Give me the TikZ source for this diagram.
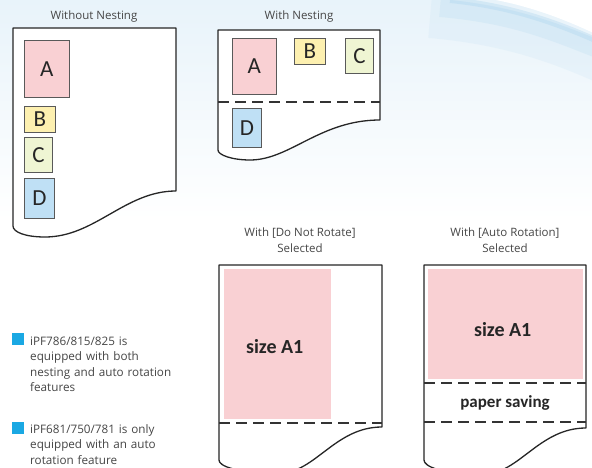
\documentclass[tikz,border=0pt]{standalone}
\usepackage{fontspec}
\setmainfont{Open Sans}
\newfontfamily\boxfont{Carlito}
\usetikzlibrary{positioning}

\definecolor{pinkA}{RGB}{249,208,211}
\definecolor{yellowB}{RGB}{253,240,176}
\definecolor{greenC}{RGB}{239,245,211}
\definecolor{blueD}{RGB}{191,224,245}
\definecolor{inkgray}{RGB}{70,70,70}
\definecolor{bulletblue}{RGB}{26,168,227}
\definecolor{skyband}{RGB}{170,212,238}
\definecolor{skytint}{RGB}{232,243,250}

\tikzset{
  paper/.style={draw=black!85, line width=1.3pt, fill=white, line join=round},
  cutline/.style={draw=black!80, line width=1.3pt, dash pattern=on 11pt off 6pt},
  job/.style={draw=black!65, line width=0.8pt, anchor=north west, inner sep=0pt,
    font=\boxfont\fontsize{23}{23}\selectfont, text=black!85},
  sheet/.style={fill=pinkA, anchor=north west, inner sep=0pt},
  heading/.style={font=\fontsize{11.5}{15.5}\selectfont, text=inkgray, align=center},
  sizelabel/.style={font=\boxfont\bfseries\fontsize{20}{20}\selectfont, text=black!85},
  note/.style={font=\fontsize{11.7}{15.5}\selectfont, text=inkgray, text width=170pt,
    align=left, inner sep=0pt, anchor=base west},
  bullet/.style={fill=bulletblue, minimum size=11.5pt, inner sep=0pt, anchor=north west}
}

\begin{document}
\begin{tikzpicture}[x=1pt, y=-1pt]
\clip (0,0) rectangle (592,468);
% background
\fill[white] (0,0) rectangle (592,468);
\shade[top color=skytint, bottom color=white] (0,0) rectangle (592,220);
\draw[skyband, line width=40pt, opacity=.12] (430,18) .. controls (500,24) and (550,40) .. (600,62);
\draw[skyband, line width=18pt, opacity=.2] (440,8) .. controls (510,14) and (550,30) .. (600,50);
\draw[skyband, line width=6pt, opacity=.35] (450,0) .. controls (510,6) and (555,22) .. (600,42);
\fill[white] (470,-4) .. controls (520,2) and (560,17) .. (600,36) -- (600,-4) -- cycle;

% without nesting
\node[heading] (tplain) at (94,17) {Without Nesting};
\draw[paper] (13,226) -- (13,28) -- (176,28) -- (176,191)
  .. controls (125,191) and (95,237) .. (45,237)
  .. controls (25,237) and (13,232) .. cycle;
\node[job, fill=pinkA, minimum width=45pt, minimum height=57pt] (a1) at (24,40) {A};
\node[job, fill=yellowB, minimum width=31pt, minimum height=26pt] (b1) at (24,106) {B};
\node[job, fill=greenC, minimum width=28pt, minimum height=35pt] (c1) at (24,137) {C};
\node[job, fill=blueD, minimum width=30pt, minimum height=40pt] (d1) at (24,178) {D};

% with nesting
\node[heading] (tnest) at (299,17) {With Nesting};
\draw[paper] (218,150) -- (218,30) -- (380,30) -- (380,120)
  .. controls (320,120) and (290,160) .. (250,160)
  .. controls (232,160) and (218,155) .. cycle;
\draw[cutline] (218,102) -- (380,102);
\node[job, fill=pinkA, minimum width=44pt, minimum height=56pt] (a2) at (232,38) {A};
\node[job, fill=yellowB, minimum width=31pt, minimum height=26pt] (b2) at (294,38) {B};
\node[job, fill=greenC, minimum width=28pt, minimum height=35pt] (c2) at (345,38) {C};
\node[job, fill=blueD, minimum width=29pt, minimum height=39pt] (d2) at (232,108) {D};

% do not rotate
\node[heading] (tfixed) at (300,240) {With [Do Not Rotate]\\Selected};
\draw[paper] (219,460) -- (219,265) -- (382,265) -- (382,427)
  .. controls (335,427) and (315,473) .. (280,473)
  .. controls (235,473) and (219,466) .. cycle;
\node[sheet, minimum width=107pt, minimum height=150pt] (s3) at (224,269) {};
\node[sizelabel] (l3) at ([xshift=-3pt, yshift=-2pt]s3.center) {size A1};
\draw[cutline] (219,423) -- (382,423);

% auto rotation
\node[heading] (trot) at (505,240) {With [Auto Rotation]\\Selected};
\draw[paper] (424,460) -- (424,265) -- (586,265) -- (586,428)
  .. controls (539,428) and (519,474) .. (484,474)
  .. controls (439,474) and (424,466) .. cycle;
\node[sheet, minimum width=155pt, minimum height=110pt] (s4) at (428,269) {};
\node[sizelabel] (l4) at ([xshift=-3pt, yshift=-5pt]s4.center) {size A1};
\draw[cutline] (424,383) -- (586,383);
\draw[cutline] (424,422) -- (586,422);
\node[font=\boxfont\bfseries\fontsize{17}{17}\selectfont, text=black!85] (save) at (505,403) {paper saving};

% notes
\node[bullet] (m1) at (12,333) {};
\node[note] (n1) at (30,345) {iPF786/815/825 is\\equipped with both\\nesting and auto rotation\\features};
\node[bullet] (m2) at (12,422) {};
\node[note] (n2) at (30,433) {iPF681/750/781 is only\\equipped with an auto\\rotation feature};
\end{tikzpicture}
\end{document}
